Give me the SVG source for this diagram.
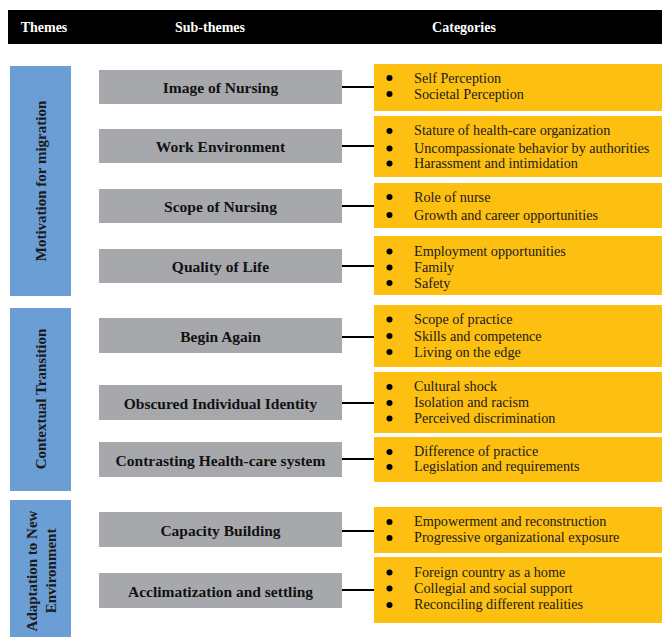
<svg xmlns="http://www.w3.org/2000/svg" width="662" height="637" viewBox="0 0 662 637">
  <style>
    .hdr { fill: #000; }
    .hdr-t { font-family: "Liberation Serif", "Times New Roman", serif; font-size: 14px; font-weight: bold; fill: #fff; text-anchor: middle; }
    .theme { fill: #6A9ED4; }
    .theme-t { font-family: "Liberation Serif", "Times New Roman", serif; font-size: 15px; font-weight: bold; fill: #1a1a1a; text-anchor: middle; }
    .sub { fill: #A7A8AB; }
    .sub-t { font-family: "Liberation Serif", "Times New Roman", serif; font-size: 15.5px; font-weight: bold; fill: #111; text-anchor: middle; }
    .cat { fill: #FDC010; }
    .cat-t { font-family: "Liberation Serif", "Times New Roman", serif; font-size: 14.2px; fill: #1a1a1a; }
    .dot { fill: #000; }
    .link { stroke: #000; stroke-width: 2; fill: none; }
  </style>

  <!-- header band -->
  <g id="header">
    <rect class="hdr" x="8" y="10" width="654" height="34"/>
    <text class="hdr-t" x="44" y="32">Themes</text>
    <text class="hdr-t" x="210" y="32">Sub-themes</text>
    <text class="hdr-t" x="464" y="32">Categories</text>
  </g>

  <!-- themes -->
  <g id="theme-motivation">
    <rect class="theme" x="10" y="66" width="61" height="230"/>
    <text class="theme-t" transform="translate(46 181) rotate(-90)">Motivation for migration</text>
  </g>
  <g id="theme-contextual">
    <rect class="theme" x="10" y="308" width="61" height="183"/>
    <text class="theme-t" transform="translate(46 399) rotate(-90)">Contextual Transition</text>
  </g>
  <g id="theme-adaptation">
    <rect class="theme" x="10" y="500" width="61" height="137"/>
    <text class="theme-t" transform="translate(37 571) rotate(-90)">Adaptation to New</text>
    <text class="theme-t" transform="translate(56 571) rotate(-90)">Environment</text>
  </g>

  <!-- connectors between sub-themes and categories -->
  <g id="connectors">
    <line class="link" x1="342" y1="87" x2="374" y2="87"/>
    <line class="link" x1="342" y1="146" x2="374" y2="146"/>
    <line class="link" x1="342" y1="206" x2="374" y2="206"/>
    <line class="link" x1="342" y1="266" x2="374" y2="266"/>
    <line class="link" x1="342" y1="337" x2="374" y2="337"/>
    <line class="link" x1="342" y1="403" x2="374" y2="403"/>
    <line class="link" x1="342" y1="459" x2="374" y2="459"/>
    <line class="link" x1="342" y1="531" x2="374" y2="531"/>
    <line class="link" x1="342" y1="590" x2="374" y2="590"/>
  </g>

  <!-- sub-themes -->
  <g id="sub-image">
    <rect class="sub" x="99" y="70" width="243" height="34"/>
    <text class="sub-t" x="220.5" y="92.5">Image of Nursing</text>
  </g>
  <g id="sub-work">
    <rect class="sub" x="99" y="129" width="243" height="34"/>
    <text class="sub-t" x="220.5" y="151.5">Work Environment</text>
  </g>
  <g id="sub-scope">
    <rect class="sub" x="99" y="189" width="243" height="34"/>
    <text class="sub-t" x="220.5" y="211.5">Scope of Nursing</text>
  </g>
  <g id="sub-quality">
    <rect class="sub" x="99" y="249" width="243" height="34"/>
    <text class="sub-t" x="220.5" y="271.5">Quality of Life</text>
  </g>
  <g id="sub-begin">
    <rect class="sub" x="99" y="318" width="243" height="35"/>
    <text class="sub-t" x="220.5" y="341.5">Begin Again</text>
  </g>
  <g id="sub-obscured">
    <rect class="sub" x="99" y="385" width="243" height="35"/>
    <text class="sub-t" x="220.5" y="408.5">Obscured Individual Identity</text>
  </g>
  <g id="sub-contrasting">
    <rect class="sub" x="99" y="442" width="243" height="35"/>
    <text class="sub-t" x="220.5" y="465.5">Contrasting Health-care system</text>
  </g>
  <g id="sub-capacity">
    <rect class="sub" x="99" y="512" width="243" height="35"/>
    <text class="sub-t" x="220.5" y="535.5">Capacity Building</text>
  </g>
  <g id="sub-acclimatization">
    <rect class="sub" x="99" y="573" width="243" height="35"/>
    <text class="sub-t" x="220.5" y="596.5">Acclimatization and settling</text>
  </g>

  <!-- categories -->
  <g id="cat-image">
    <rect class="cat" x="374" y="64" width="288" height="47"/>
    <circle class="dot" cx="389.5" cy="78" r="3"/>
    <circle class="dot" cx="389.5" cy="94" r="3"/>
    <text class="cat-t" x="414" y="82.5">Self Perception</text>
    <text class="cat-t" x="414" y="98.5">Societal Perception</text>
  </g>
  <g id="cat-work">
    <rect class="cat" x="374" y="116" width="288" height="61"/>
    <circle class="dot" cx="389.5" cy="131" r="3"/>
    <circle class="dot" cx="389.5" cy="148.5" r="3"/>
    <circle class="dot" cx="389.5" cy="163.5" r="3"/>
    <text class="cat-t" x="414" y="135">Stature of health-care organization</text>
    <text class="cat-t" x="414" y="153">Uncompassionate behavior by authorities</text>
    <text class="cat-t" x="414" y="168">Harassment and intimidation</text>
  </g>
  <g id="cat-scope">
    <rect class="cat" x="374" y="183" width="288" height="45"/>
    <circle class="dot" cx="389.5" cy="197" r="3"/>
    <circle class="dot" cx="389.5" cy="215" r="3"/>
    <text class="cat-t" x="414" y="201.5">Role of nurse</text>
    <text class="cat-t" x="414" y="219.5">Growth and career opportunities</text>
  </g>
  <g id="cat-quality">
    <rect class="cat" x="374" y="236" width="288" height="59"/>
    <circle class="dot" cx="389.5" cy="251.5" r="3"/>
    <circle class="dot" cx="389.5" cy="267.5" r="3"/>
    <circle class="dot" cx="389.5" cy="283" r="3"/>
    <text class="cat-t" x="414" y="256">Employment opportunities</text>
    <text class="cat-t" x="414" y="272">Family</text>
    <text class="cat-t" x="414" y="287.5">Safety</text>
  </g>
  <g id="cat-begin">
    <rect class="cat" x="374" y="305" width="288" height="62"/>
    <circle class="dot" cx="389.5" cy="319.5" r="3"/>
    <circle class="dot" cx="389.5" cy="336" r="3"/>
    <circle class="dot" cx="389.5" cy="352" r="3"/>
    <text class="cat-t" x="414" y="324">Scope of practice</text>
    <text class="cat-t" x="414" y="340.5">Skills and competence</text>
    <text class="cat-t" x="414" y="356.5">Living on the edge</text>
  </g>
  <g id="cat-obscured">
    <rect class="cat" x="374" y="372" width="288" height="61"/>
    <circle class="dot" cx="389.5" cy="387" r="3"/>
    <circle class="dot" cx="389.5" cy="403" r="3"/>
    <circle class="dot" cx="389.5" cy="418.5" r="3"/>
    <text class="cat-t" x="414" y="391">Cultural shock</text>
    <text class="cat-t" x="414" y="407">Isolation and racism</text>
    <text class="cat-t" x="414" y="422.5">Perceived discrimination</text>
  </g>
  <g id="cat-contrasting">
    <rect class="cat" x="374" y="437" width="288" height="45"/>
    <circle class="dot" cx="389.5" cy="452" r="3"/>
    <circle class="dot" cx="389.5" cy="467" r="3"/>
    <text class="cat-t" x="414" y="456">Difference of practice</text>
    <text class="cat-t" x="414" y="471">Legislation and requirements</text>
  </g>
  <g id="cat-capacity">
    <rect class="cat" x="374" y="507" width="288" height="46"/>
    <circle class="dot" cx="389.5" cy="522" r="3"/>
    <circle class="dot" cx="389.5" cy="538" r="3"/>
    <text class="cat-t" x="414" y="526">Empowerment and reconstruction</text>
    <text class="cat-t" x="414" y="542">Progressive organizational exposure</text>
  </g>
  <g id="cat-acclimatization">
    <rect class="cat" x="374" y="557" width="288" height="66"/>
    <circle class="dot" cx="389.5" cy="572.5" r="3"/>
    <circle class="dot" cx="389.5" cy="588.5" r="3"/>
    <circle class="dot" cx="389.5" cy="605" r="3"/>
    <text class="cat-t" x="414" y="577">Foreign country as a home</text>
    <text class="cat-t" x="414" y="593">Collegial and social support</text>
    <text class="cat-t" x="414" y="609">Reconciling different realities</text>
  </g>
</svg>
